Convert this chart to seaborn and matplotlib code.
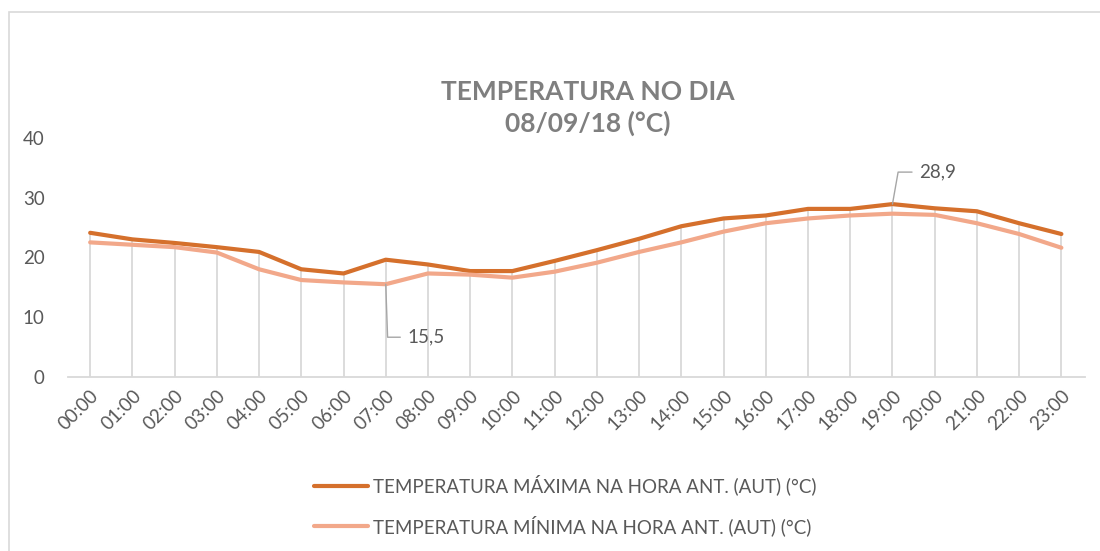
import matplotlib
matplotlib.use('Agg')
import matplotlib.pyplot as plt
import pandas as pd
import numpy as np
import seaborn as sns
from matplotlib.patches import Rectangle

sns.set_theme(style='white')
plt.rcParams['font.family'] = ['Lato', 'DejaVu Sans']

# Dados
horas = ['00:00', '01:00', '02:00', '03:00', '04:00', '05:00', '06:00', '07:00',
         '08:00', '09:00', '10:00', '11:00', '12:00', '13:00', '14:00', '15:00',
         '16:00', '17:00', '18:00', '19:00', '20:00', '21:00', '22:00', '23:00']
temp_max = [24.1, 23.0, 22.4, 21.7, 20.9, 18.0, 17.3, 19.6, 18.8, 17.7, 17.7, 19.4,
            21.2, 23.1, 25.2, 26.5, 27.0, 28.1, 28.1, 28.9, 28.2, 27.7, 25.7, 23.9]
temp_min = [22.5, 22.1, 21.7, 20.8, 18.0, 16.2, 15.8, 15.5, 17.3, 17.1, 16.6, 17.6,
            19.1, 20.9, 22.5, 24.3, 25.7, 26.5, 27.0, 27.3, 27.1, 25.7, 23.9, 21.6]
nome_max = 'TEMPERATURA MÁXIMA NA HORA ANT. (AUT) (°C)'
nome_min = 'TEMPERATURA MÍNIMA NA HORA ANT. (AUT) (°C)'

df = pd.DataFrame({'Hora': list(range(len(horas))) * 2,
                   'Temp': temp_max + temp_min,
                   'Serie': [nome_max] * len(horas) + [nome_min] * len(horas)})

cinza = '#595959'
fig = plt.figure(figsize=(11, 5.51), dpi=100)
ax = fig.add_axes([0.062, 0.316, 0.924, 0.434])

# linhas de queda (drop lines)
ax.vlines(range(len(horas)), 0, temp_max, color='#d9d9d9', lw=1.3, zorder=1)

sns.lineplot(data=df, x='Hora', y='Temp', hue='Serie',
             palette={nome_max: '#D5702C', nome_min: '#F2A88A'},
             linewidth=3, ax=ax, zorder=3, legend=True)

ax.set_xlim(-0.52, 23.55)
ax.set_ylim(0, 40)
ax.set_yticks([0, 10, 20, 30, 40])
ax.set_xticks(range(len(horas)))
ax.set_xticklabels(horas, rotation=45, ha='right', rotation_mode='anchor')
ax.tick_params(axis='both', labelsize=13.5, colors=cinza, length=0)
ax.tick_params(axis='y', pad=17)
ax.tick_params(axis='x', pad=7)
ax.set_xlabel('')
ax.set_ylabel('')
for s in ['top', 'right', 'left']:
    ax.spines[s].set_visible(False)
ax.spines['bottom'].set_color('#d9d9d9')
ax.spines['bottom'].set_linewidth(1.3)

# rótulos de dados
ax.annotate('28,9', xy=(19, temp_max[19]), xytext=(27, 32), textcoords='offset pixels',
            fontsize=13.5, color=cinza, ha='left', va='center',
            arrowprops=dict(arrowstyle='-', color='#a6a6a6', lw=1,
                            connectionstyle='angle,angleA=0,angleB=80,rad=0',
                            shrinkA=3, shrinkB=0))
ax.annotate('15,5', xy=(7, temp_min[7]), xytext=(22, -53), textcoords='offset pixels',
            fontsize=13.5, color=cinza, ha='left', va='center',
            arrowprops=dict(arrowstyle='-', color='#a6a6a6', lw=1,
                            connectionstyle='angle,angleA=0,angleB=-88,rad=0',
                            shrinkA=3, shrinkB=0))

fig.text(0.534, 0.804, 'TEMPERATURA NO DIA\n08/09/18 (°C)', ha='center', va='center',
         fontsize=19, fontweight='bold', color='#7f7f7f', linespacing=1.3)

handles, labels = ax.get_legend_handles_labels()
ax.legend(handles, labels, loc='center', bbox_to_anchor=(0.514, 0.083),
          bbox_transform=fig.transFigure, frameon=False, fontsize=13.5,
          labelcolor=cinza, handlelength=2.9, handletextpad=0.25, labelspacing=1.05)

fig.patches.append(Rectangle((9 / 1100, -0.1), 1.2, 1 - 12 / 551 + 0.1,
                             transform=fig.transFigure, fill=False,
                             edgecolor='#d9d9d9', lw=1.2))

fig.savefig('out.png', dpi=100)
